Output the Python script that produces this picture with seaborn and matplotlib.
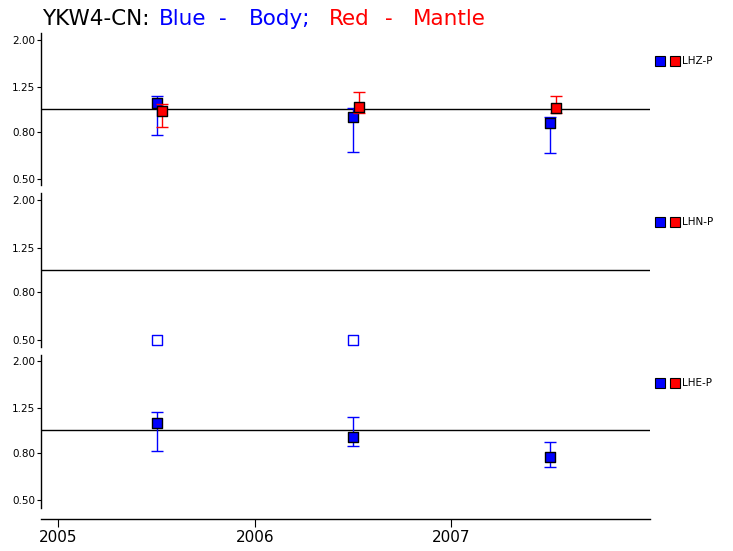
import matplotlib
matplotlib.use("Agg")
import matplotlib.pyplot as plt
from matplotlib.ticker import FixedLocator, FixedFormatter, NullLocator
import seaborn as sns

# --------------------------------------------
# Data (ratio values, log axis)
# --------------------------------------------
years_body = [2005.50, 2006.50, 2007.50]
years_mantle = [2005.53, 2006.53, 2007.53]

lhz_body = [1.065, 0.927, 0.875]
lhz_body_lo = [0.775, 0.654, 0.646]
lhz_body_hi = [1.141, 1.010, 0.929]

lhz_mantle = [0.983, 1.023, 1.016]
lhz_mantle_lo = [0.836, 0.961, 0.967]
lhz_mantle_hi = [1.051, 1.188, 1.138]

lhn_years_open = [2005.50, 2006.50]
lhn_body_open = [0.50, 0.50]

lhe_body = [1.078, 0.938, 0.769]
lhe_body_lo = [0.814, 0.853, 0.693]
lhe_body_hi = [1.196, 1.138, 0.888]

channels = ["LHZ-P", "LHN-P", "LHE-P"]
ytick_vals = [0.50, 0.80, 1.25, 2.00]
ytick_labels = ["0.50", "0.80", "1.25", "2.00"]
xtick_vals = [2005, 2006, 2007]
xtick_labels = ["2005", "2006", "2007"]

BLUE = "#0000ff"
RED = "#ff0000"

sns.set_style("white")
plt.rcParams["font.family"] = ["DejaVu Sans"]

W, H = 733, 551
fig = plt.figure(figsize=(W / 100, H / 100), dpi=100)

# panel extents in pixels (top, bottom) and y limits
panels = [(33, 185, (0.472, 2.135)), (193, 347, (0.465, 2.149)), (355, 508, (0.462, 2.113))]
x_left, x_right = 41, 650
legend_y = [0.816, 0.81, 0.82]

axes = []
for i, (top, bot, ylim) in enumerate(panels):
    ax = fig.add_axes([x_left / W, 1 - bot / H, (x_right - x_left) / W, (bot - top) / H])
    ax.set_yscale("log")
    ax.set_ylim(*ylim)
    ax.set_xlim(2004.912, 2008.01)
    for s in ["top", "right", "bottom"]:
        ax.spines[s].set_visible(False)
    ax.spines["left"].set_color("black")
    ax.spines["left"].set_linewidth(1.0)
    ax.yaxis.set_major_locator(FixedLocator(ytick_vals))
    ax.yaxis.set_major_formatter(FixedFormatter(ytick_labels))
    ax.yaxis.set_minor_locator(NullLocator())
    ax.tick_params(axis="y", direction="out", length=3, width=0.8, pad=1,
                   labelsize=7.5, colors="black", left=True)
    ax.set_xticks([])
    ax.axhline(1.0, color="black", lw=1.0, zorder=1)
    ax.set_facecolor("none")
    ax.grid(False)

    # legend-ish markers at the right
    ax.plot([1.0164], [legend_y[i]], marker="s", ms=7, mfc=BLUE, mec="black", mew=0.8,
            transform=ax.transAxes, clip_on=False)
    ax.plot([1.041], [legend_y[i]], marker="s", ms=7, mfc=RED, mec="black", mew=0.8,
            transform=ax.transAxes, clip_on=False)
    ax.text(1.0525, legend_y[i], channels[i], transform=ax.transAxes, fontsize=7.5,
            va="center", ha="left", color="black")
    axes.append(ax)


def draw_series(ax, x, y, lo, hi, color, z):
    yerr = [[v - l for v, l in zip(y, lo)], [h - v for v, h in zip(y, hi)]]
    ax.errorbar(x, y, yerr=yerr, fmt="none", ecolor=color, elinewidth=1.0,
                capsize=4.3, capthick=1.0, zorder=z)
    sns.scatterplot(x=x, y=y, ax=ax, marker="s", s=48, color=color,
                    edgecolor="black", linewidth=1.0, zorder=z + 0.5, legend=False)


# LHZ-P
draw_series(axes[0], years_body, lhz_body, lhz_body_lo, lhz_body_hi, BLUE, 3)
draw_series(axes[0], years_mantle, lhz_mantle, lhz_mantle_lo, lhz_mantle_hi, RED, 5)

# LHN-P: open squares only
sns.scatterplot(x=lhn_years_open, y=lhn_body_open, ax=axes[1], marker="s", s=48,
                color="white", edgecolor=BLUE, linewidth=1.0, zorder=4, legend=False,
                clip_on=False)

# LHE-P
draw_series(axes[2], years_body, lhe_body, lhe_body_lo, lhe_body_hi, BLUE, 3)

# bottom time axis, offset below last panel
ax = axes[2]
ax.spines["bottom"].set_visible(True)
ax.spines["bottom"].set_position(("outward", 7.9))
ax.spines["bottom"].set_color("black")
ax.spines["bottom"].set_linewidth(1.0)
ax.set_xticks(xtick_vals)
ax.set_xticklabels(xtick_labels)
ax.tick_params(axis="x", direction="out", length=6, width=0.8, pad=2,
               labelsize=11, colors="black", bottom=True)
for a in axes:
    a.set_xlabel("")
    a.set_ylabel("")

# title in three colours
title_parts = [("YKW4-CN:", 42, "black"), ("Blue", 159, BLUE), ("-", 219, BLUE),
               ("Body;", 249, BLUE), ("Red", 329, RED), ("-", 385, RED),
               ("Mantle", 413, RED)]
for txt, px, col in title_parts:
    fig.text(px / W, 1 - 25 / H, txt, fontsize=15.5, color=col, ha="left", va="baseline")

fig.savefig("out.png", dpi=100)
